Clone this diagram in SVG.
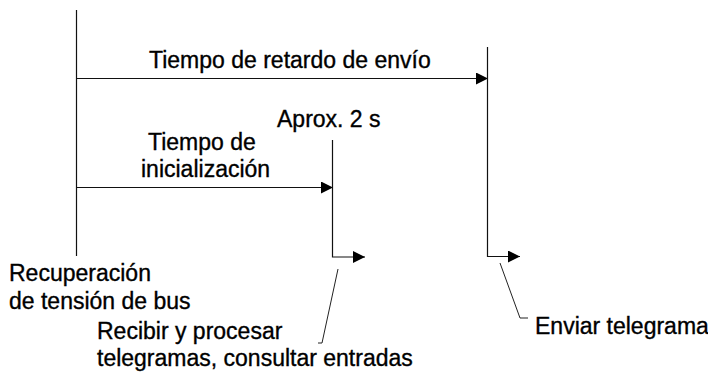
<svg xmlns="http://www.w3.org/2000/svg" width="708" height="374" viewBox="0 0 708 374">
<style>
.ln{stroke:#111;stroke-width:1.2;fill:none}
.ld{stroke:#222;stroke-width:1;fill:none}
text{font-family:"Liberation Sans",Arial,sans-serif;font-size:23px;fill:#000;stroke:#000;stroke-width:0.35}
</style>
<defs>
<marker id="ah" markerUnits="userSpaceOnUse" markerWidth="12" markerHeight="12" refX="12" refY="6" orient="auto">
<path d="M0,0 L12,6 L0,12 Z" fill="#000"/>
</marker>
</defs>
<rect width="708" height="374" fill="#fff"/>
<g id="connectors">
<line class="ln" x1="76.5" y1="10" x2="76.5" y2="256"/>
<line class="ln" x1="76.5" y1="78.5" x2="488" y2="78.5" marker-end="url(#ah)"/>
<line class="ln" x1="76.5" y1="187.5" x2="333" y2="187.5" marker-end="url(#ah)"/>
<polyline class="ln" points="332.5,140 332.5,257 365,257" marker-end="url(#ah)"/>
<polyline class="ln" points="487.5,47 487.5,256.5 520,256.5" marker-end="url(#ah)"/>
<polyline class="ld" points="318,343 322,343 338,269"/>
<polyline class="ld" points="500,263 520,318 528,318"/>
</g>
<g id="label-envio"><text x="149" y="68">Tiempo de retardo de envío</text></g>
<g id="label-aprox"><text x="277" y="127">Aprox. 2 s</text></g>
<g id="label-inicializacion"><text x="148" y="150">Tiempo de</text><text x="141" y="177">inicialización</text></g>
<g id="label-recuperacion"><text x="9" y="281">Recuperación</text><text x="9" y="309">de tensión de bus</text></g>
<g id="label-recibir"><text x="97" y="339">Recibir y procesar</text><text x="97" y="366">telegramas, consultar entradas</text></g>
<g id="label-enviar"><text x="535" y="334">Enviar telegrama</text></g>
</svg>
